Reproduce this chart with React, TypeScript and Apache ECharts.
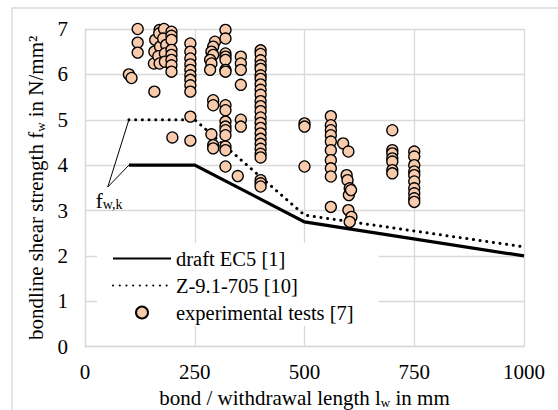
import React, { useEffect, useRef } from 'react';
import * as echarts from 'echarts';

const xTicks = [0, 250, 500, 750, 1000];
const yTicks = [0, 1, 2, 3, 4, 5, 6, 7];

const ec5Length = [100, 250, 500, 1000];
const ec5Strength = [4, 4, 2.75, 2];

const zLength = [100, 250, 500, 1000];
const zStrength = [5, 5, 2.9, 2.2];

const testLength = [
  100, 106, 120, 120, 120,
  158, 155, 160, 158, 157, 170, 169, 171, 167, 170, 180, 178, 185, 182, 182,
  197, 197, 197, 197, 197, 197, 197, 197, 199,
  240, 240, 240, 240, 240, 240, 240, 240, 240, 240, 240,
  296, 292, 288, 292, 285, 288, 285, 292, 292, 288, 292, 292,
  320, 320, 320, 320, 320, 320, 320, 320, 320, 320, 320, 320, 320, 320, 320, 320,
  355, 355, 355, 355, 355, 355, 348,
  400, 400, 400, 400, 400, 400, 400, 400, 400, 400, 400, 400, 400, 400, 400, 400,
  400, 400, 400, 400, 400, 400, 400, 400, 400,
  500, 500, 500,
  560, 560, 560, 560, 560, 560, 560, 560, 560, 560,
  588, 600, 596, 598, 603, 601, 606, 600, 607, 603,
  700, 700, 700, 700, 700, 700, 700,
  750, 750, 750, 750, 750, 750, 750, 750, 750, 750,
];
const testStrength = [
  6.0, 5.92, 7.0, 6.7, 6.48,
  5.62, 7.01, 6.76, 6.5, 6.24, 6.98, 6.9, 6.61, 6.4, 6.24, 7.0, 6.79, 6.65, 6.46, 6.28,
  6.94, 6.85, 6.76, 6.54, 6.43, 6.32, 6.2, 6.06, 4.61,
  6.68, 6.5, 6.35, 6.22, 6.1, 5.98, 5.88, 5.76, 5.62, 5.07, 4.54,
  6.72, 6.61, 6.5, 6.43, 6.32, 6.24, 6.1, 5.43, 5.32, 4.68, 4.44, 4.37,
  6.98, 6.79, 6.46, 6.39, 6.32, 6.1, 6.06, 5.32, 5.21, 4.96, 4.85, 4.77, 4.66, 4.41, 4.33, 3.97,
  6.39, 6.24, 6.1, 5.77, 5.0, 4.85, 3.76,
  6.53, 6.45, 6.31, 6.2, 6.12, 5.98, 5.9, 5.78, 5.66, 5.55, 5.41, 5.3, 5.19, 5.05, 4.93, 4.82,
  4.7, 4.58, 4.47, 4.36, 4.25, 4.17, 3.67, 3.6, 3.53,
  4.92, 4.85, 3.97,
  5.08, 4.88, 4.77, 4.66, 4.52, 4.33, 4.11, 3.93, 3.75, 3.08,
  4.48, 4.3, 3.78, 3.67, 3.49, 3.34, 3.45, 3.01, 2.86, 2.75,
  4.77, 4.33, 4.26, 4.15, 4.08, 3.89, 3.82,
  4.3, 4.19, 4.0, 3.86, 3.78, 3.64, 3.49, 3.38, 3.27, 3.19,
];

const seriesNames = ['draft EC5 [1]', 'Z-9.1-705 [10]', 'experimental tests [7]'];
const annotationLabel = 'f';
const annotationSub = 'w,k';
const annotationAnchor = [52, 3.52];

const FONT = 'Liberation Serif';
const GRID_COLOR = '#d9d9d9';

export default function App() {
  const ref = useRef<HTMLDivElement>(null);
  useEffect(() => {
    if (!ref.current) return;
    const chart = echarts.init(ref.current, undefined, { renderer: 'svg' });
    const pair = (xs: number[], ys: number[]) => xs.map((x, i) => [x, ys[i]]);
    const richTitle = {
      a: { fontFamily: FONT, fontSize: 21, color: '#000', lineHeight: 21, verticalAlign: 'bottom' },
      s: { fontFamily: FONT, fontSize: 13, color: '#000', lineHeight: 10, verticalAlign: 'bottom' },
    };
    chart.setOption({
      animation: false,
      backgroundColor: '#ffffff',
      textStyle: { fontFamily: FONT, color: '#000' },
      grid: {
        left: 85,
        top: 29,
        right: 34,
        bottom: 63.3,
        containLabel: false,
        outerBoundsMode: 'none',
      },
      legend: {
        orient: 'vertical',
        left: 97,
        top: 243,
        data: seriesNames,
        backgroundColor: '#ffffff',
        padding: [5, 25, 3, 15],
        itemWidth: 58,
        itemHeight: 12,
        itemGap: 6,
        textStyle: { fontFamily: FONT, fontSize: 20.5, color: '#000', lineHeight: 20 },
      },
      xAxis: {
        type: 'value',
        min: xTicks[0],
        max: xTicks[xTicks.length - 1],
        interval: xTicks[1] - xTicks[0],
        axisLine: { show: true, lineStyle: { color: GRID_COLOR, width: 1.3 } },
        axisTick: { show: false },
        splitLine: { show: true, lineStyle: { color: GRID_COLOR, width: 1.3 } },
        axisLabel: {
          fontFamily: FONT,
          fontSize: 21,
          color: '#000',
          margin: 15,
          formatter: (v: number) => String(v),
        },
        name: '{a|bond / withdrawal length l}{s|w}{a| in mm}',
        nameLocation: 'middle',
        nameGap: 40,
        nameTextStyle: { fontFamily: FONT, rich: richTitle },
      },
      yAxis: {
        type: 'value',
        min: yTicks[0],
        max: yTicks[yTicks.length - 1],
        interval: yTicks[1] - yTicks[0],
        axisLine: { show: true, lineStyle: { color: GRID_COLOR, width: 1.3 } },
        axisTick: { show: false },
        splitLine: { show: true, lineStyle: { color: GRID_COLOR, width: 1.3 } },
        axisLabel: {
          fontFamily: FONT,
          fontSize: 21,
          color: '#000',
          margin: 17,
          formatter: (v: number) => String(v),
        },
        name: '{a|bondline shear strength f}{s|w}{a| in N/mm²}',
        nameLocation: 'middle',
        nameGap: 25,
        nameTextStyle: { fontFamily: FONT, rich: richTitle },
      },
      series: [
        {
          name: seriesNames[0],
          type: 'line',
          data: pair(ec5Length, ec5Strength),
          symbol: 'none',
          color: '#000',
          itemStyle: { color: '#000', opacity: 0 },
          lineStyle: { color: '#000', width: 3.2, type: 'solid', join: 'miter' },
          z: 2,
        },
        {
          name: seriesNames[1],
          type: 'line',
          data: pair(zLength, zStrength),
          symbol: 'none',
          color: '#000',
          itemStyle: { color: '#000', opacity: 0 },
          lineStyle: { color: '#000', width: 3, type: [0.1, 6.6], cap: 'round' },
          z: 2,
        },
        {
          name: seriesNames[2],
          type: 'scatter',
          data: pair(testLength, testStrength),
          symbol: 'circle',
          symbolSize: 11,
          itemStyle: { color: '#F8CBAD', borderColor: '#000', borderWidth: 1.3, opacity: 1 },
          z: 3,
        },
      ],
    });

    const anchor = chart.convertToPixel({ gridIndex: 0 }, annotationAnchor) as number[];
    const topStart = chart.convertToPixel({ gridIndex: 0 }, [zLength[0], zStrength[0]]) as number[];
    const ec5Start = chart.convertToPixel({ gridIndex: 0 }, [ec5Length[0], ec5Strength[0]]) as number[];
    chart.setOption({
      graphic: [
        {
          type: 'rect',
          shape: { x: 12, y: 8, width: 620, height: 460 },
          style: { fill: 'none', stroke: GRID_COLOR, lineWidth: 1.3 },
          silent: true,
          z: -1,
        },
        {
          type: 'line',
          shape: { x1: anchor[0], y1: anchor[1], x2: topStart[0], y2: topStart[1] },
          style: { stroke: '#000', lineWidth: 1 },
          z: 10,
        },
        {
          type: 'line',
          shape: { x1: anchor[0], y1: anchor[1], x2: ec5Start[0], y2: ec5Start[1] },
          style: { stroke: '#000', lineWidth: 1 },
          z: 10,
        },
        {
          type: 'text',
          x: anchor[0] - 12,
          y: anchor[1] + 3,
          style: {
            text: `{a|${annotationLabel}}{s|${annotationSub}}`,
            rich: {
              a: { fontFamily: FONT, fontSize: 21, fill: '#000', lineHeight: 22, verticalAlign: 'bottom' },
              s: { fontFamily: FONT, fontSize: 14, fill: '#000', lineHeight: 12, verticalAlign: 'bottom' },
            },
          },
          z: 10,
        },
      ],
    });
    return () => chart.dispose();
  }, []);
  return (
    <div
      ref={ref}
      style={{ position: 'absolute', left: 0, top: 0, width: 558, height: 410 }}
    />
  );
}
